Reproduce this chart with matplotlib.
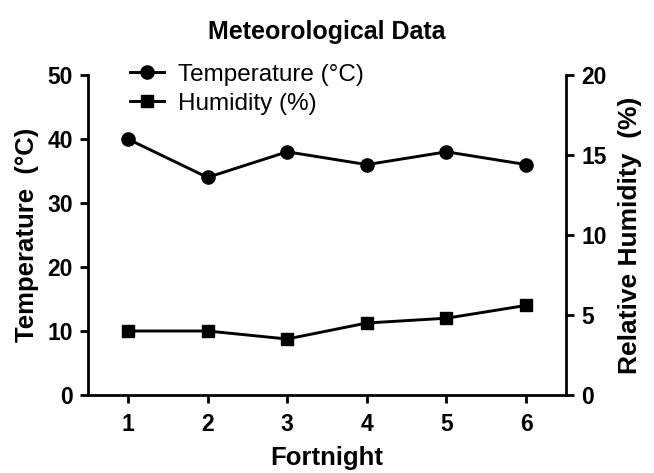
import matplotlib.pyplot as plt

plt.rcParams['font.family'] = ['Liberation Sans', 'DejaVu Sans']

fortnight = [1, 2, 3, 4, 5, 6]
temperature = [40, 34, 38, 36, 38, 36]
humidity = [4.0, 4.0, 3.5, 4.5, 4.8, 5.6]

fig = plt.figure(figsize=(6.54, 4.73), dpi=100)
ax = fig.add_axes([0.1346, 0.1649, 0.7308, 0.6765])
ax2 = ax.twinx()

l1, = ax.plot(fortnight, temperature, color='black', lw=2.1, marker='o', ms=9.5,
              label='Temperature (°C)', clip_on=False)
l2, = ax2.plot(fortnight, humidity, color='black', lw=2.1, marker='s', ms=9,
               label='Humidity (%)', clip_on=False)

ax.set_xlim(0.5, 6.5)
ax.set_ylim(0, 50)
ax2.set_ylim(0, 20)
ax.set_xticks(fortnight)
ax.set_yticks([0, 10, 20, 30, 40, 50])
ax2.set_yticks([0, 5, 10, 15, 20])

for a in (ax, ax2):
    a.spines['top'].set_visible(False)
    for s in a.spines.values():
        s.set_linewidth(2)
    a.tick_params(width=2, length=6, labelsize=16.5, direction='out', pad=5)
    for t in a.get_xticklabels() + a.get_yticklabels():
        t.set_fontweight('bold')
ax.tick_params(axis='x', pad=7)
ax.spines['right'].set_visible(False)
ax2.spines['left'].set_visible(False)
ax2.spines['bottom'].set_visible(False)

ax.set_xlabel('Fortnight', fontsize=18.5, fontweight='bold', labelpad=7)
ax.set_ylabel('Temperature  (°C)', fontsize=18.5, fontweight='bold', labelpad=6)
ax2.set_ylabel('Relative Humidity  (%)', fontsize=19, fontweight='bold', labelpad=8)
ax.set_title('Meteorological Data', fontsize=18, fontweight='bold', pad=26)

ax.legend(handles=[l1, l2], loc='upper left', bbox_to_anchor=(0.067, 1.066),
          frameon=False, fontsize=17.5, handlelength=1.4, handletextpad=0.6,
          labelspacing=0.3, borderaxespad=0)

fig.savefig('out.png', dpi=100)
